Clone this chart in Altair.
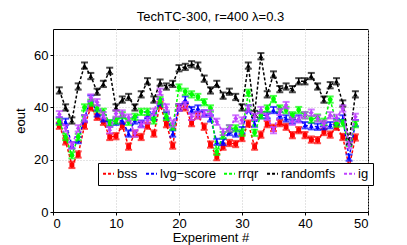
import altair as alt
import pandas as pd

experiments = list(range(1, 49))

bss = [33, 27, 18, 22, 33, 40, 36.4, 34.5, 28.7, 29, 33, 25, 30, 28.7, 33, 30,
       41, 33.6, 25.4, 40, 40, 34, 37, 32.6, 25.8, 21, 25, 26.4, 26, 28.3, 33.8, 25,
       29.6, 33.6, 32.2, 34, 32.6, 29.4, 31.3, 29.4, 27.7, 27.5, 30.6, 29.6, 32.6, 28.7, 17.2, 28.5]
lvg = [35, 34.5, 25.5, 27.5, 35.8, 43.4, 37.7, 35.8, 33.8, 34.5, 35, 30, 35, 33.8, 37, 36.4,
       42, 37, 30, 40, 43, 39, 39.6, 37.7, 35.8, 26.8, 26.8, 30.6, 30, 31.3, 39.6, 33.8,
       37, 37, 39, 37, 35.8, 35, 35.8, 33.2, 32.8, 32.6, 32.8, 33.2, 34.5, 35.8, 20.8, 34]
rrqr = [34.5, 28.7, 21.7, 28.7, 40, 41.8, 39.6, 38.3, 34, 35, 37, 34.5, 36.4, 38.3, 38.3, 35,
        42.8, 36.4, 32.6, 47.6, 46, 45, 44, 42, 39.6, 23, 29.4, 32, 32, 30.3, 45.6, 30.3,
        37, 39.6, 43.2, 39.6, 39, 37, 39, 37, 35.4, 36.1, 34.5, 43, 33.8, 34, 26.4, 33.6]
randomfs = [46.5, 40, 35, 48, 56, 52, 46, 49, 54, 40, 43, 44, 40, 45, 50, 43,
            49.5, 48, 49, 55, 55.5, 56.5, 56, 51, 46.5, 49, 44.5, 46, 44, 40, 56, 37.5,
            59.6, 45, 52.6, 47, 48, 47, 50, 50, 52, 48, 43, 48.5, 50, 41.5, 27, 45]
ig = [37.4, 32, 25.5, 32, 35.8, 43.8, 42, 37, 31.3, 37.7, 37.7, 36.1, 30, 33.5, 35, 38.3,
      46, 40, 33.8, 40, 40.9, 36.4, 37, 37.7, 37.7, 34.5, 30.6, 32, 35.8, 35, 39.6, 36.4,
      39, 36.4, 31.3, 38.3, 40.9, 34.5, 35.4, 37, 38, 35.8, 33.8, 37, 36, 39.6, 25.5, 36.4]

series_names = ["bss", "lvg\u2212score", "rrqr", "randomfs", "ig"]
series_values = [bss, lvg, rrqr, randomfs, ig]
series_colors = ["#ff0000", "#0000ff", "#00ff00", "#000000", "#bf40ff"]
series_shapes = ["square", "triangle-up", "circle", "triangle-up", "diamond"]
err = 1.2

rows = []
for name, vals in zip(series_names, series_values):
    for e, v in zip(experiments, vals):
        rows.append({"exp": e, "eout": v, "lo": v - err, "hi": v + err, "method": name})
df = pd.DataFrame(rows)

cscale = alt.Scale(domain=series_names, range=series_colors)
xenc = alt.X("exp:Q", scale=alt.Scale(domain=[0, 50], nice=False),
             axis=alt.Axis(values=[0, 10, 20, 30, 40, 50], title="Experiment #"))
yenc = alt.Y("eout:Q", scale=alt.Scale(domain=[0, 70], nice=False),
             axis=alt.Axis(values=[0, 20, 40, 60], title="eout"))

layers = []
for i, (name, shape) in enumerate(zip(series_names, series_shapes)):
    base = alt.Chart(df).transform_filter(alt.datum.method == name)
    if i == 0:
        col = alt.Color("method:N", scale=cscale,
                        legend=alt.Legend(
                            title=None, orient="none", legendX=45, legendY=134,
                            direction="horizontal", columns=5,
                            symbolType="stroke", symbolStrokeWidth=2, symbolDash=[3, 2],
                            symbolSize=120, labelFontSize=13, labelFont="Liberation Sans",
                            labelColor="black", columnPadding=4, symbolOffset=0,
                            strokeColor="black", fillColor="white", padding=4,
                            labelOffset=2))
    else:
        col = alt.Color("method:N", scale=cscale, legend=None)
    nolegend = alt.Color("method:N", scale=cscale, legend=None)
    line = base.mark_line(strokeDash=[3, 2], strokeWidth=1.5).encode(
        x=xenc, y=yenc, color=col, order="exp:Q")
    bars = base.mark_rule(strokeWidth=1.5).encode(
        x="exp:Q", y="lo:Q", y2="hi:Q", color=nolegend)
    cap_hi = base.mark_tick(orient="horizontal", size=7, thickness=2).encode(
        x="exp:Q", y="hi:Q", color=nolegend)
    cap_lo = base.mark_tick(orient="horizontal", size=7, thickness=2).encode(
        x="exp:Q", y="lo:Q", color=nolegend)
    pts = base.mark_point(filled=True, size=24, opacity=1, shape=shape).encode(
        x="exp:Q", y="eout:Q", color=nolegend)
    layers += [line, bars, cap_hi, cap_lo, pts]

chart = alt.layer(*layers).properties(
    width=315, height=183,
    title=alt.TitleParams("TechTC-300, r=400 \u03bb=0.3", fontSize=13, font="Liberation Sans",
                          fontWeight="normal", offset=5, color="black"),
    autosize=alt.AutoSizeParams(type="none"),
    padding={"left": 45, "top": 21, "right": 24, "bottom": 35},
).configure_view(stroke="black", strokeWidth=1).configure_axis(
    labelFont="Liberation Sans", titleFont="Liberation Sans", labelFontSize=13,
    titleFontSize=13, titleFontWeight="normal", labelColor="black", titleColor="black",
    gridColor="#c8c8c8", gridDash=[1, 2], domainColor="black", tickColor="black",
    tickSize=3, labelPadding=2,
).configure_axisY(titlePadding=6).configure_axisX(titlePadding=1)

chart.save("out.html", embed_options={"renderer": "svg", "actions": False})
